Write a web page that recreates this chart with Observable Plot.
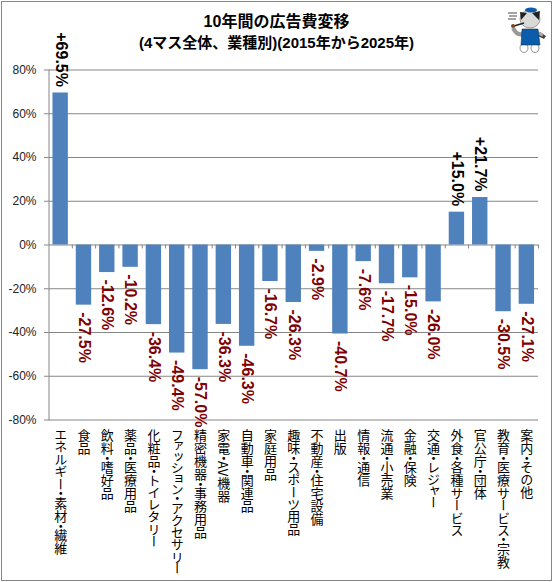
<!DOCTYPE html>
<html><head><meta charset="utf-8">
<script src="https://cdn.jsdelivr.net/npm/d3@7"></script>
<script src="https://cdn.jsdelivr.net/npm/@observablehq/plot@0.6"></script>
<style>
html,body{margin:0;padding:0;background:#fff}
#chart{position:relative;width:554px;height:582px;overflow:hidden}
#frame{position:absolute;left:1px;top:1px;width:549px;height:578px;border:1.5px solid #868686;pointer-events:none}
#title{position:absolute;left:0;top:11px;width:553px;text-align:center;font:bold 15px/21px "Liberation Sans","Noto Sans CJK JP",sans-serif;color:#000}
#title .l1{font-size:16px}
#mascot{position:absolute;left:505px;top:5px}
.cat text{writing-mode:vertical-rl;font-feature-settings:"vpal"}
</style></head><body>
<div id="chart"><div id="frame"></div>
<div id="title"><span class="l1">10年間の広告費変移</span><br>(4マス全体、業種別)(2015年から2025年)</div>
<svg id="mascot" width="44" height="50" viewBox="0 0 44 50" aria-hidden="true">
  <path d="M35 27 L41 31 L39 34 L33 31Z" fill="#444"/>
  <path d="M30 27 L38 30" stroke="#aaa" stroke-width="3"/>
  <ellipse cx="19" cy="43" rx="4" ry="4.5" fill="#fff" stroke="#666" stroke-width=".7"/>
  <ellipse cx="30" cy="43" rx="4" ry="4.5" fill="#fff" stroke="#666" stroke-width=".7"/>
  <path d="M8 23 Q12 31 18 29" stroke="#999" stroke-width="4" fill="none"/>
  <path d="M17 24 L33 24 L35 40 L16 40Z" fill="#0b5cab" stroke="#123" stroke-width=".5"/>
  <ellipse cx="25" cy="14" rx="10" ry="9" fill="#d9d9d9" stroke="#666" stroke-width=".6"/>
  <path d="M15 7 L16 15 L22 8Z M27 8 L35 6 L34 15Z" fill="#222"/>
  <ellipse cx="26" cy="5" rx="6" ry="2.5" fill="#0b5cab"/>
  <path d="M9 21 L19 18" stroke="#222" stroke-width="1.5"/>
  <circle cx="8" cy="21" r="2" fill="#7a4a20"/>
  <path d="M3 8 h9 M4 11 h8 M3 14 h8" stroke="#888" stroke-width="1.6"/>
</svg>
</div>
<script>
const categories = ["エネルギー・素材・繊維","食品","飲料・嗜好品","薬品・医療用品","化粧品・トイレタリー","ファッション・アクセサリー","精密機器・事務用品","家電・AV機器","自動車・関連品","家庭用品","趣味・スポーツ用品","不動産・住宅設備","出版","情報・通信","流通・小売業","金融・保険","交通・レジャー","外食・各種サービス","官公庁・団体","教育・医療サービス・宗教","案内・その他"];
const values = [69.5,-27.5,-12.6,-10.2,-36.4,-49.4,-57.0,-36.3,-46.3,-16.7,-26.3,-2.9,-40.7,-7.6,-17.7,-15.0,-26.0,15.0,21.7,-30.5,-27.1];
const yTicks = [-80,-60,-40,-20,0,20,40,60,80];
const table = categories.map((c,i)=>({c,v:values[i]}));
const grey = "#868686";
const step = (538-48.5)/categories.length;
const fmt = v => (v>0?"+":"")+v.toFixed(1)+"%";
const plot = Plot.plot({
  width:554,height:582,marginLeft:48.5,marginRight:16,marginTop:69.5,marginBottom:162.5,
  style:{background:"transparent",fontFamily:'"Liberation Sans",sans-serif',overflow:"visible"},
  x:{domain:categories,type:"band",paddingInner:0.34,paddingOuter:0.17,round:false,axis:null},
  y:{domain:[-80,80],label:null},
  marks:[
    Plot.ruleY(yTicks,{stroke:grey,strokeWidth:1}),
    Plot.frame({anchor:"left",stroke:grey}),
    Plot.axisY({ticks:yTicks,tickFormat:d=>d+"%",tickSize:4.5,tickPadding:8,fontSize:12,stroke:grey,fill:"#222",label:null}),
    Plot.barY(table,{x:"c",y:"v",fill:"#4f81bd"}),
    Plot.ruleX(categories,{x:d=>d,y1:0,y2:-1.8,stroke:grey,dx:step/2}),
    Plot.text(categories,{x:d=>d,y:-80,text:d=>d,className:"cat",fontFamily:'"Noto Sans CJK JP"',fontSize:13,fill:"#000",textAnchor:"start",lineAnchor:"bottom",dy:8.5}),
    Plot.text(table.filter(d=>d.v<0),{x:"c",y:"v",text:d=>fmt(d.v),rotate:90,textAnchor:"start",dy:7,fontSize:16,fontWeight:"bold",fill:"#7f0000"}),
    Plot.text(table.filter(d=>d.v>0),{x:"c",y:"v",text:d=>fmt(d.v),rotate:90,textAnchor:"end",dy:-6,fontSize:16,fontWeight:"bold",fill:"#000"})
  ]
});
plot.style.position="absolute";plot.style.left="0";plot.style.top="0";
document.getElementById("chart").appendChild(plot);
</script></body></html>
